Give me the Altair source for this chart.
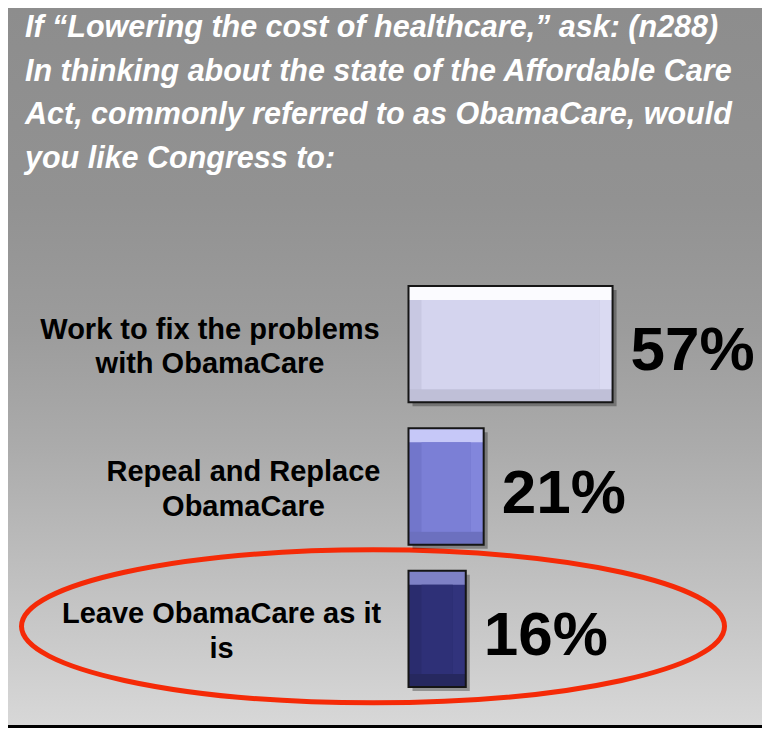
import altair as alt
import pandas as pd

# ---------------- data ----------------
CATEGORIES = [
    "Work to fix the problems with ObamaCare",
    "Repeal and Replace ObamaCare",
    "Leave ObamaCare as it is",
]
LABEL_LINES = [
    "Work to fix the problems|with ObamaCare",
    "Repeal and Replace|ObamaCare",
    "Leave ObamaCare as it|is",
]
VALUES = [57, 21, 16]
HIGHLIGHT = "Leave ObamaCare as it is"
TITLE_LINES = [
    "If \u201cLowering the cost of healthcare,\u201d ask: (n288)",
    "In thinking about the state of the Affordable Care",
    "Act, commonly referred to as ObamaCare, would",
    "you like Congress to:",
]

# ---------------- styles / layout ----------------
FACE = ["#d4d4ee", "#7b7fd6", "#2e3077"]
TOP = ["#fbfbff", "#c6c8f8", "#7e81c6"]
LEFT = ["#c8c8e2", "#7276cb", "#2a2c6e"]
RIGHT = ["#dadaf2", "#8286dc", "#31337c"]
BOTTOM = ["#bfbfd7", "#6c70bf", "#26285f"]
LABEL_CX = [202, 235.5, 213.5]

W, H = 754, 720
Y_RANGE = [278, 679]
PAD_IN = 0.183
STEP = (Y_RANGE[1] - Y_RANGE[0]) / (len(CATEGORIES) - PAD_IN)
BAND = STEP * (1 - PAD_IN)
BEV = 13
FONT = "Liberation Sans"

df = pd.DataFrame({
    "cat": CATEGORIES,
    "label": LABEL_LINES,
    "value": VALUES,
    "zero": [0] * len(VALUES),
    "face": FACE,
    "top": TOP,
    "left": LEFT,
    "right": RIGHT,
    "bottom": BOTTOM,
    "cx": LABEL_CX,
})

x_scale = alt.Scale(domain=[0, 100], range=[400.5, 758.5])
y_scale = alt.Scale(domain=CATEGORIES, range=Y_RANGE, paddingInner=PAD_IN, paddingOuter=0)
Y = alt.Y("cat:N", scale=y_scale, axis=None, sort=CATEGORIES)
XZ = alt.X("zero:Q", scale=x_scale, axis=None)
XV = alt.X("value:Q", scale=x_scale, axis=None)
X2V = alt.X2("value:Q")

one = pd.DataFrame({"a": [0]})

gradient = {
    "gradient": "linear", "x1": 0, "y1": 0, "x2": 0, "y2": 1,
    "stops": [
        {"offset": 0.0, "color": "#8d8d8d"},
        {"offset": 0.27, "color": "#929292"},
        {"offset": 0.45, "color": "#9c9c9c"},
        {"offset": 0.61, "color": "#ababab"},
        {"offset": 0.76, "color": "#bcbcbc"},
        {"offset": 1.0, "color": "#d8d8d8"},
    ],
}

background = alt.Chart(one).mark_rect(fill=gradient).encode(
    x=alt.value(0), x2=alt.value(W), y=alt.value(0), y2=alt.value(H)
)
bottom_border = alt.Chart(one).mark_rect(fill="#000000").encode(
    x=alt.value(0), x2=alt.value(W), y=alt.value(H - 3), y2=alt.value(H)
)

title = alt.Chart(one).mark_text(
    text=TITLE_LINES, font=FONT, fontSize=30.5, fontWeight="bold", fontStyle="italic",
    color="white", align="left", baseline="alphabetic", lineHeight=43.7,
).encode(x=alt.value(17), y=alt.value(29))

base = alt.Chart(df)

shadow = base.mark_bar(color="#000000", opacity=0.3, xOffset=4, x2Offset=4, yOffset=4,
                       height=BAND).encode(x=XZ, x2=X2V, y=Y)
bar_left = base.mark_bar(height=BAND).encode(
    x=XZ, x2=X2V, y=Y, color=alt.Color("left:N", scale=None))
bar_right = base.mark_bar(height=BAND, xOffset=-BEV).encode(
    x=XV, x2=X2V, y=Y, color=alt.Color("right:N", scale=None))
bar_bottom = base.mark_bar(height=BEV, yOffset=BAND / 2 - BEV / 2).encode(
    x=XZ, x2=X2V, y=Y, color=alt.Color("bottom:N", scale=None))
bar_top = base.mark_bar(height=BEV + 1, yOffset=-(BAND / 2 - (BEV + 1) / 2)).encode(
    x=XZ, x2=X2V, y=Y, color=alt.Color("top:N", scale=None))
bar_face = base.mark_bar(height=BAND - 2 * BEV - 1, yOffset=0.5, xOffset=BEV, x2Offset=-BEV).encode(
    x=XZ, x2=X2V, y=Y, color=alt.Color("face:N", scale=None))
bar_outline = base.mark_bar(height=BAND, fillOpacity=0, stroke="#151515", strokeWidth=2).encode(
    x=XZ, x2=X2V, y=Y)

# ellipse around the highlighted row
ry = 76.5 / 351.5
k = 0.5523
ellipse_path = (
    f"M -1 0 C -1 {-ry*k:.4f} {-k} {-ry:.4f} 0 {-ry:.4f} "
    f"C {k} {-ry:.4f} 1 {-ry*k:.4f} 1 0 "
    f"C 1 {ry*k:.4f} {k} {ry:.4f} 0 {ry:.4f} "
    f"C {-k} {ry:.4f} -1 {ry*k:.4f} -1 0 Z"
)
ellipse = base.transform_filter(alt.datum.cat == HIGHLIGHT).mark_point(
    shape=ellipse_path, size=(2 * 351.5) ** 2, filled=False, stroke="#f52a07",
    strokeWidth=5, opacity=1, yOffset=-2.5,
).encode(x=alt.value(365), y=Y)

cat_labels = base.transform_calculate(lines="split(datum.label, '|')").mark_text(
    font=FONT, fontSize=29, fontWeight="bold", color="#000000", align="center",
    baseline="alphabetic", lineHeight=34.5, dy=-5.5,
).encode(x=alt.X("cx:Q", scale=None, axis=None), y=Y, text="lines:N")

pct_labels = base.transform_calculate(pct="datum.value + '%'").mark_text(
    font=FONT, fontSize=62, fontWeight="bold", color="#000000", align="left",
    baseline="middle", dx=18, dy=7,
).encode(x=XV, y=Y, text="pct:N")

chart = alt.layer(
    background, bottom_border, title, ellipse,
    shadow, bar_left, bar_right, bar_bottom, bar_top, bar_face, bar_outline,
    cat_labels, pct_labels,
).properties(
    width=W, height=H, padding=0, autosize=alt.AutoSizeParams(type="none"),
).configure_view(stroke=None)

chart.save("out.html", embed_options={"renderer": "svg", "actions": False})
